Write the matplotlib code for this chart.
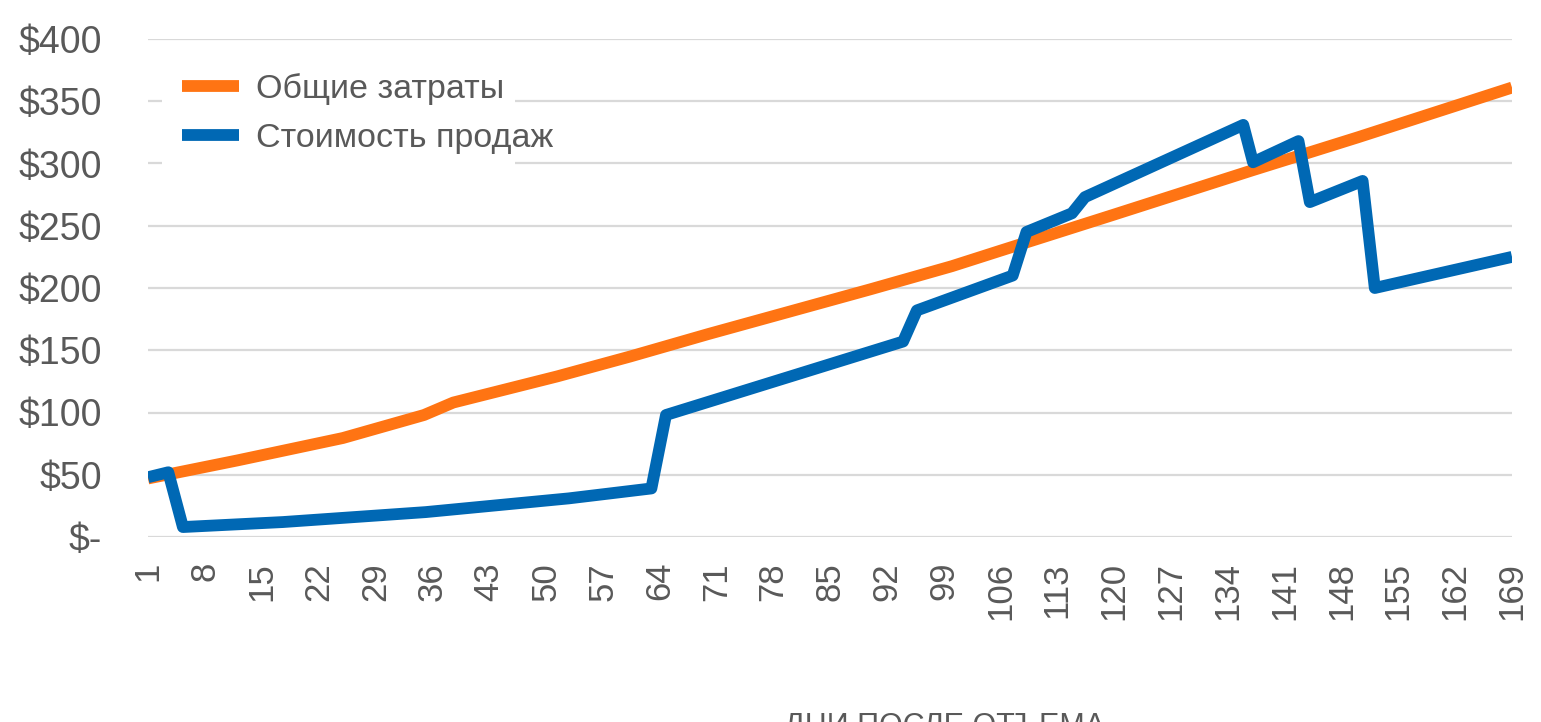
import matplotlib
matplotlib.use('Agg')
import matplotlib.pyplot as plt
from matplotlib.patches import Rectangle

# Total costs (orange) - key points
cost_days = [1, 12, 25, 35, 38.6, 51.4, 60.4, 70, 80, 90, 100, 106, 120, 137, 150, 169]
cost_vals = [47, 61.5, 79.5, 98, 108, 129, 145, 163, 181, 199, 217.5, 230, 259, 294.5, 321, 361]

# Sales value (blue)
sales_days = [1, 3.5, 5.3, 17.6, 35.2, 52.8, 63, 64.8, 94, 95.7, 107.5, 109.2, 114.8, 116.4,
              135.9, 137.1, 142.7, 144.1, 150.6, 152.1, 169]
sales_vals = [48, 52, 8, 12, 20, 31, 39, 98, 157, 182, 210, 245, 260, 273,
              331, 301, 318, 269, 286, 200, 225]

tick_days = list(range(1, 170, 7))
y_ticks = [0, 50, 100, 150, 200, 250, 300, 350, 400]
y_labels = ['$-' if v == 0 else f'${v}' for v in y_ticks]

plt.rcParams['font.family'] = ['Liberation Sans', 'DejaVu Sans']
grey = '#595959'

fig = plt.figure(figsize=(15.41, 7.22), dpi=100)
ax = fig.add_axes([148 / 1541, 1 - 537 / 722, (1512 - 148) / 1541, (537 - 39) / 722])

ax.plot(cost_days, cost_vals, color='#FF7413', lw=8.5, solid_capstyle='butt',
        solid_joinstyle='round', label='Общие затраты', zorder=3)
ax.plot(sales_days, sales_vals, color='#0068B4', lw=8.5, solid_capstyle='butt',
        solid_joinstyle='round', label='Стоимость продаж', zorder=3)

ax.set_xlim(1, 169)
ax.set_ylim(0, 400)
ax.set_yticks(y_ticks)
ax.set_yticklabels(y_labels)
ax.set_xticks(tick_days)
ax.set_xticklabels([str(d) for d in tick_days], rotation=90)
ax.tick_params(axis='both', length=0, colors=grey)
ax.tick_params(axis='y', pad=33, labelsize=27)
ax.tick_params(axis='x', pad=18, labelsize=25)
ax.grid(axis='y', color='#D9D9D9', lw=1.6)
ax.set_axisbelow(True)
for s in ax.spines.values():
    s.set_visible(False)

# white legend area hiding the gridlines
ax.add_patch(Rectangle((0.0103, 0.727), 0.2587, 0.241, transform=ax.transAxes,
                       facecolor='white', edgecolor='none', zorder=1))

leg = ax.legend(loc='upper left', bbox_to_anchor=(0.005, 0.986), fontsize=24.5, frameon=False,
                handlelength=1.68, handletextpad=0.5, labelspacing=0.53, borderpad=0.3)
for t in leg.get_texts():
    t.set_color(grey)
for h in leg.get_lines():
    h.set_linewidth(8.5)

# x-axis title, cut off at the bottom edge like the source image
fig.text(944.5 / 1541, 10 / 722, 'ДНИ ПОСЛЕ ОТЪЕМА', ha='center', va='top',
         fontsize=22, color=grey)

fig.savefig('out.png', dpi=100)
